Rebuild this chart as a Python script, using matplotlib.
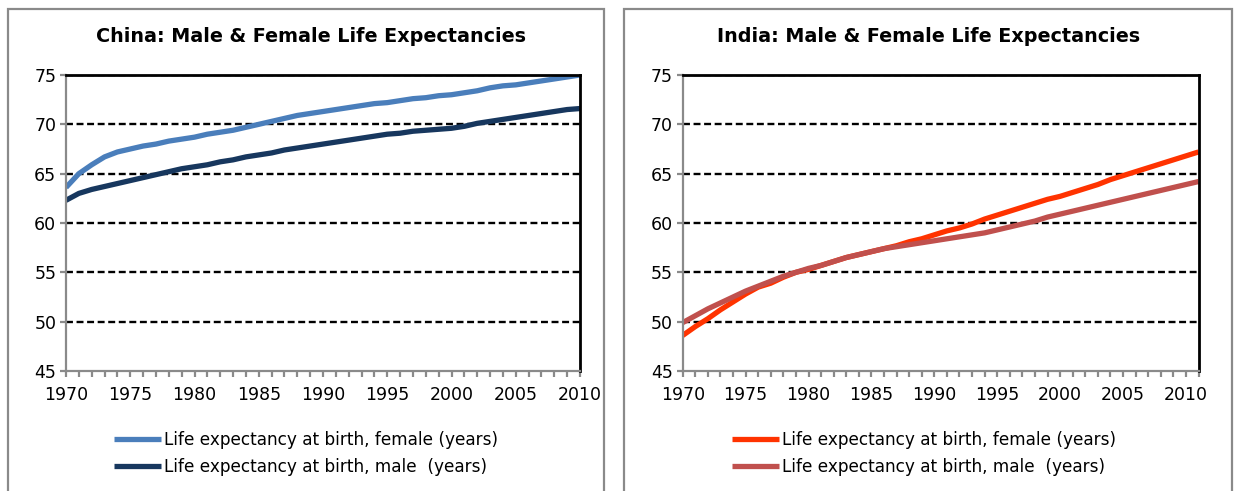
import matplotlib.pyplot as plt
from matplotlib.patches import Rectangle
from matplotlib.ticker import MultipleLocator

plt.rcParams['font.family'] = ['DejaVu Sans']
plt.rcParams['lines.scale_dashes'] = False

# data
years_china = list(range(1970, 2011))
china_female = [63.6, 65.0, 65.9, 66.7, 67.2, 67.5, 67.8, 68.0, 68.3, 68.5,
                68.7, 69.0, 69.2, 69.4, 69.7, 70.0, 70.3, 70.6, 70.9, 71.1,
                71.3, 71.5, 71.7, 71.9, 72.1, 72.2, 72.4, 72.6, 72.7, 72.9,
                73.0, 73.2, 73.4, 73.7, 73.9, 74.0, 74.2, 74.4, 74.6, 74.8,
                75.0]
china_male = [62.3, 63.0, 63.4, 63.7, 64.0, 64.3, 64.6, 64.9, 65.2, 65.5,
              65.7, 65.9, 66.2, 66.4, 66.7, 66.9, 67.1, 67.4, 67.6, 67.8,
              68.0, 68.2, 68.4, 68.6, 68.8, 69.0, 69.1, 69.3, 69.4, 69.5,
              69.6, 69.8, 70.1, 70.3, 70.5, 70.7, 70.9, 71.1, 71.3, 71.5,
              71.6]

years_india = list(range(1970, 2012))
india_female = [48.6, 49.5, 50.3, 51.2, 52.0, 52.8, 53.5, 53.9, 54.5, 55.0,
                55.3, 55.7, 56.1, 56.5, 56.8, 57.1, 57.4, 57.7, 58.1, 58.4,
                58.8, 59.2, 59.5, 59.9, 60.4, 60.8, 61.2, 61.6, 62.0, 62.4,
                62.7, 63.1, 63.5, 63.9, 64.4, 64.8, 65.2, 65.6, 66.0, 66.4,
                66.8, 67.2]
india_male = [49.9, 50.6, 51.3, 51.9, 52.5, 53.1, 53.6, 54.1, 54.6, 55.0,
              55.4, 55.7, 56.1, 56.5, 56.8, 57.1, 57.4, 57.6, 57.8, 58.0,
              58.2, 58.4, 58.6, 58.8, 59.0, 59.3, 59.6, 59.9, 60.2, 60.6,
              60.9, 61.2, 61.5, 61.8, 62.1, 62.4, 62.7, 63.0, 63.3, 63.6,
              63.9, 64.2]

label_f = 'Life expectancy at birth, female (years)'
label_m = 'Life expectancy at birth, male  (years)'

W, H = 1235, 491
fig = plt.figure(figsize=(W / 100, H / 100), dpi=100)

gray = '#8a8a8a'


def panel(left_px, right_px, box_l, box_r, title, title_x, years, fem, male,
          c_f, c_m, leg_x):
    # outer frame of the panel
    fig.patches.append(Rectangle((box_l / W, -0.05), (box_r - box_l) / W,
                                 1.05 - 9 / H, transform=fig.transFigure,
                                 fill=False, ec=gray, lw=1.6))
    ax = fig.add_axes([left_px / W, (H - 371) / H,
                       (right_px - left_px) / W, 296 / H])
    ax.plot(years, fem, color=c_f, lw=3.8, label=label_f,
            solid_capstyle='butt')
    ax.plot(years, male, color=c_m, lw=3.8, label=label_m,
            solid_capstyle='butt')
    ax.set_xlim(years[0], years[-1])
    ax.set_ylim(45, 75)
    ax.set_yticks(range(45, 80, 5))
    ax.xaxis.set_major_locator(MultipleLocator(5))
    ax.xaxis.set_minor_locator(MultipleLocator(1))
    for y in range(50, 80, 5):
        ax.axhline(y, color='black', lw=1.7, ls=(0, (5, 2.6)), zorder=0)
    ax.spines['top'].set_color('black')
    ax.spines['top'].set_linewidth(2.0)
    ax.spines['right'].set_color('black')
    ax.spines['right'].set_linewidth(2.0)
    ax.spines['left'].set_color(gray)
    ax.spines['left'].set_linewidth(1.6)
    ax.spines['bottom'].set_color(gray)
    ax.spines['bottom'].set_linewidth(1.6)
    ax.tick_params(axis='both', which='both', color=gray, width=1.6,
                   length=4, labelsize=12.5, direction='out')
    ax.tick_params(axis='x', pad=7)
    ax.tick_params(axis='y', pad=3)
    fig.text(title_x / W, 1 - 36 / H, title, ha='center', va='center',
             fontsize=13.8, fontweight='bold')
    ax.legend(loc='upper left', bbox_to_anchor=(leg_x / W, 1 - 431 / H),
              bbox_transform=fig.transFigure, frameon=False, fontsize=12.2,
              handlelength=2.8, handletextpad=0.15, labelspacing=0.55,
              borderaxespad=0, borderpad=0)
    return ax


panel(66, 580, 8, 604, 'China: Male & Female Life Expectancies', 311,
      years_china, china_female, china_male, '#4a7ebb', '#17375e', 114)
panel(682.7, 1198.5, 624, 1232, 'India: Male & Female Life Expectancies', 929,
      years_india, india_female, india_male, '#ff3300', '#c0504d', 732)

fig.savefig('out.png', dpi=100)
